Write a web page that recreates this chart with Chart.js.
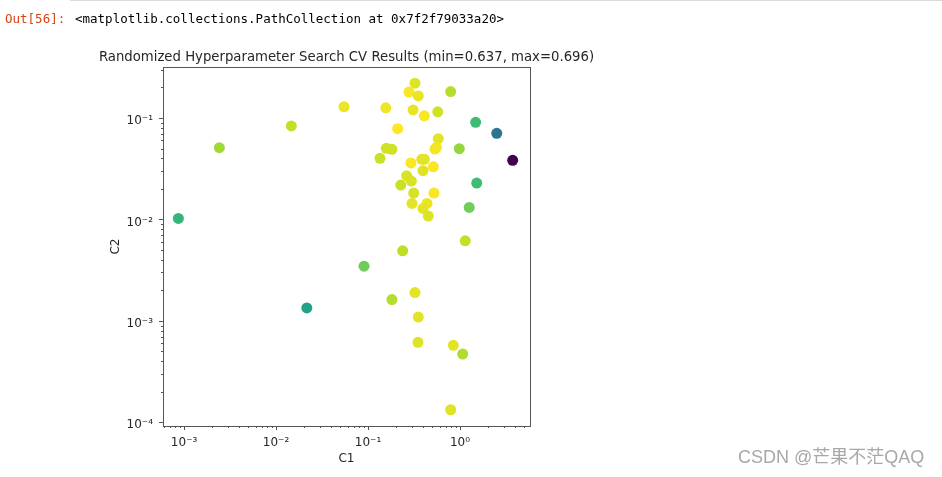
<!DOCTYPE html>
<html>
<head>
<meta charset="utf-8">
<script src="https://cdn.jsdelivr.net/npm/chart.js@4.4.1/dist/chart.umd.min.js"></script>
<style>
  html, body { margin: 0; padding: 0; background: #fff; }
  #wrap { position: relative; width: 942px; height: 477px; overflow: hidden; }
  #cv { position: absolute; left: 0; top: 0; }
  .topline { position: absolute; left: 70px; right: 0; top: 0; height: 1px; background: #dadada; }
  .prompt { position: absolute; left: 5px; top: 10px; font: 12.5px "DejaVu Sans Mono", monospace; color: #d84315; line-height: 17px; }
  .out { position: absolute; left: 75px; top: 10px; font: 12.5px "DejaVu Sans Mono", monospace; color: #000; line-height: 17px; }
  .mark { position: absolute; left: 738px; top: 446px; font: 18px "Liberation Sans", "Noto Sans CJK SC", sans-serif; color: #a8a8a8; line-height: 22px; }
</style>
</head>
<body>
<div id="wrap">
  <canvas id="cv" width="942" height="477"></canvas>
  <div class="topline"></div>
  <div class="prompt">Out[56]:</div>
  <div class="out">&lt;matplotlib.collections.PathCollection at 0x7f2f79033a20&gt;</div>
  <div class="mark">CSDN @芒果不茫QAQ</div>
</div>
<script>
// values
const c1 = [0.324, 0.279, 0.352, 0.792, 0.0548, 0.156, 0.309, 0.409, 0.573, 0.01466,
            0.210, 1.48, 2.51, 0.00242, 0.158, 0.182, 0.581, 0.535, 0.556, 0.983,
            0.135, 0.384, 0.410, 0.293, 3.74, 0.513, 0.396, 0.263, 0.296, 0.227,
            1.52, 0.314, 0.521, 0.301, 0.438, 0.396, 0.452, 1.26, 0.000867, 1.14,
            0.238, 0.0905, 0.0216, 0.324, 0.182, 0.352, 0.349, 0.846, 1.07, 0.792];
const c2 = [0.220, 0.180, 0.165, 0.182, 0.129, 0.126, 0.120, 0.105, 0.115, 0.0834,
            0.0784, 0.0907, 0.0706, 0.0509, 0.0502, 0.0491, 0.0625, 0.0494, 0.0514, 0.0498,
            0.0400, 0.0391, 0.0391, 0.0360, 0.0382, 0.0330, 0.0302, 0.0269, 0.0239, 0.0218,
            0.0228, 0.0182, 0.0182, 0.01439, 0.01439, 0.01285, 0.01078, 0.01313, 0.01023, 0.00615,
            0.00490, 0.00346, 0.00134, 0.00190, 0.00162, 0.00109, 0.000615, 0.000574, 0.000471, 0.000133];
const scores = [0.6925, 0.6950, 0.6936, 0.6889, 0.6937, 0.6940, 0.6936, 0.6950, 0.6913, 0.6901,
                0.6954, 0.6771, 0.6600, 0.6872, 0.6913, 0.6913, 0.6930, 0.6945, 0.6945, 0.6860,
                0.6907, 0.6930, 0.6930, 0.6950, 0.6370, 0.6950, 0.6925, 0.6920, 0.6920, 0.6907,
                0.6771, 0.6918, 0.6950, 0.6930, 0.6937, 0.6930, 0.6925, 0.6826, 0.6754, 0.6901,
                0.6895, 0.6824, 0.6706, 0.6930, 0.6889, 0.6930, 0.6925, 0.6930, 0.6883, 0.6925];

const xRange = [5.9e-4, 5.77];
const yRange = [9.2e-5, 0.318];
const titleText = 'Randomized Hyperparameter Search CV Results (min=0.637, max=0.696)';

// viridis stops
const viridis = ['#440154', '#482475', '#414487', '#355f8d', '#2a788e', '#21918c',
                 '#22a884', '#44bf70', '#7ad151', '#bddf26', '#fde725'];

function hexRgb(h) {
    return [parseInt(h.slice(1, 3), 16), parseInt(h.slice(3, 5), 16), parseInt(h.slice(5, 7), 16)];
}

function viridisColor(t) {
    t = Math.max(0, Math.min(1, t));
    const pos = t * (viridis.length - 1);
    const i = Math.min(Math.floor(pos), viridis.length - 2);
    const f = pos - i;
    const a = hexRgb(viridis[i]), b = hexRgb(viridis[i + 1]);
    const c = a.map((v, k) => Math.round(v + (b[k] - v) * f));
    return `rgb(${c[0]}, ${c[1]}, ${c[2]})`;
}

const sMin = Math.min(...scores);
const sMax = Math.max(...scores);
const colors = scores.map(s => viridisColor((s - sMin) / (sMax - sMin)));
const points = c1.map((x, i) => ({ x: x, y: c2[i] }));

const supMap = { '-': '\u207b', '0': '\u2070', '1': '\u00b9', '2': '\u00b2', '3': '\u00b3',
                 '4': '\u2074', '5': '\u2075', '6': '\u2076', '7': '\u2077', '8': '\u2078', '9': '\u2079' };

function logTicks(min, max) {
    const out = [];
    for (let e = Math.floor(Math.log10(min)); e <= Math.ceil(Math.log10(max)); e++) {
        for (let k = 1; k <= 9; k++) {
            const v = Number((k * Math.pow(10, e)).toPrecision(6));
            if (v >= min && v <= max) out.push({ value: v, major: k === 1 });
        }
    }
    return out;
}

function powLabel(value) {
    const e = Math.log10(value);
    if (Math.abs(e - Math.round(e)) > 1e-9) return '';
    return '10' + String(Math.round(e)).split('').map(ch => supMap[ch]).join('');
}

const textColor = '#262626';
const tickFont = { family: 'DejaVu Sans', size: 12 };

// frame, tick marks and title, placed from the chart's own scales
const framePlugin = {
    id: 'frame',
    afterDraw(chart) {
        const { ctx, chartArea: a, scales } = chart;
        ctx.save();
        ctx.strokeStyle = '#555';
        ctx.lineWidth = 1;
        ctx.strokeRect(Math.round(a.left) + 0.5, Math.round(a.top) + 0.5,
                       Math.round(a.right - a.left), Math.round(a.bottom - a.top));
        ctx.beginPath();
        scales.x.ticks.forEach(t => {
            const px = Math.round(scales.x.getPixelForValue(t.value)) + 0.5;
            const len = t.major ? 4 : 2;
            ctx.moveTo(px, a.bottom);
            ctx.lineTo(px, a.bottom + len);
        });
        scales.y.ticks.forEach(t => {
            const py = Math.round(scales.y.getPixelForValue(t.value)) + 0.5;
            const len = t.major ? 4 : 2;
            ctx.moveTo(a.left, py);
            ctx.lineTo(a.left - len, py);
        });
        ctx.stroke();
        ctx.fillStyle = textColor;
        ctx.font = '13.25px "DejaVu Sans"';
        ctx.textAlign = 'center';
        ctx.textBaseline = 'middle';
        ctx.fillText(titleText, (a.left + a.right) / 2, 58);
        ctx.restore();
    }
};

const ctx = document.getElementById('cv').getContext('2d');

const chart = new Chart(ctx, {
    type: 'scatter',
    data: {
        datasets: [{
            data: points,
            pointRadius: 5.5,
            pointHoverRadius: 5.5,
            pointBorderWidth: 0,
            pointBackgroundColor: colors,
            pointBorderColor: colors
        }]
    },
    options: {
        responsive: false,
        animation: false,
        events: [],
        layout: { padding: { top: 67, right: 412, bottom: 0, left: 0 } },
        plugins: {
            legend: { display: false },
            tooltip: { enabled: false },
            title: { display: false }
        },
        scales: {
            x: {
                type: 'logarithmic',
                min: xRange[0],
                max: xRange[1],
                afterFit: s => { s.height = 51; },
                afterBuildTicks: s => { s.ticks = logTicks(xRange[0], xRange[1]); },
                grid: { display: false, drawTicks: false, tickLength: 0 },
                border: { display: false },
                ticks: { autoSkip: false, maxRotation: 0, padding: 10, color: textColor, font: tickFont, callback: powLabel },
                title: { display: true, text: 'C1', color: textColor, font: tickFont, padding: { top: 0, bottom: 11 } }
            },
            y: {
                type: 'logarithmic',
                min: yRange[0],
                max: yRange[1],
                afterFit: s => { s.width = 163; },
                afterBuildTicks: s => { s.ticks = logTicks(yRange[0], yRange[1]); },
                grid: { display: false, drawTicks: false, tickLength: 0 },
                border: { display: false },
                ticks: { autoSkip: false, padding: 10, labelOffset: 3, color: textColor, font: tickFont, callback: powLabel },
                title: { display: true, text: 'C2', color: textColor, font: tickFont, padding: { top: 109, bottom: 0 } }
            }
        }
    },
    plugins: [framePlugin]
});
</script>
</body>
</html>
